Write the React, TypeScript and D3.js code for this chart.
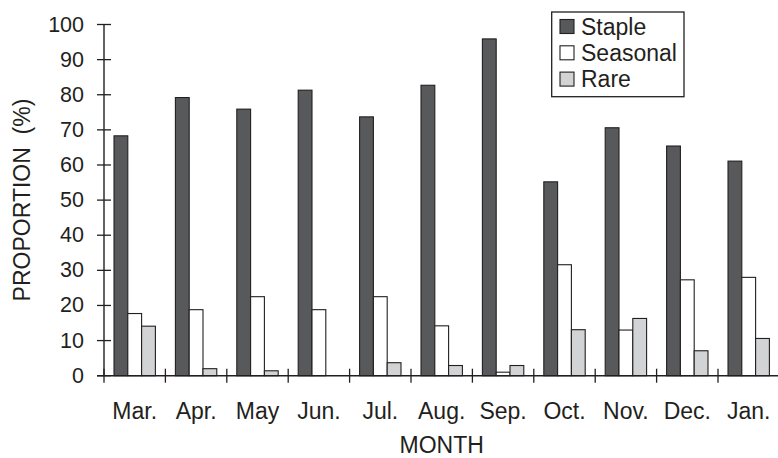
import React, { useRef, useEffect } from 'react';
import * as d3 from 'd3';

const months = ['Mar.', 'Apr.', 'May', 'Jun.', 'Jul.', 'Aug.', 'Sep.', 'Oct.', 'Nov.', 'Dec.', 'Jan.'];
const seriesNames = ['Staple', 'Seasonal', 'Rare'];
const staple = [68.3, 79.2, 75.9, 81.3, 73.7, 82.7, 95.9, 55.2, 70.6, 65.4, 61.1];
const seasonal = [17.7, 18.8, 22.5, 18.8, 22.5, 14.2, 1.0, 31.6, 13.0, 27.3, 28.0];
const rare = [14.1, 2.0, 1.4, 0, 3.7, 2.9, 2.9, 13.1, 16.3, 7.1, 10.6];
const yTicks = [0, 10, 20, 30, 40, 50, 60, 70, 80, 90, 100];

const fills: Record<string, string> = { Staple: '#58595b', Seasonal: '#ffffff', Rare: '#d1d3d4' };
const INK = '#231f20';
const FONT = '"Liberation Sans", Arial, Helvetica, sans-serif';

const W = 778;
const H = 458;

export default function App() {
  const svgRef = useRef<SVGSVGElement>(null);

  useEffect(() => {
    if (!svgRef.current) return;
    const svg = d3.select(svgRef.current);
    svg.selectAll('*').remove();

    const left = 104;
    const x = d3.scaleBand<string>().domain(months).range([left, left + 11 * 61.4]).padding(0);
    const inner = d3.scaleBand<string>().domain(seriesNames).range([0, x.bandwidth()])
      .paddingInner(0).paddingOuter(0.725);
    const y = d3.scaleLinear().domain([0, 100]).range([375.7, 24.5]);

    const data = seriesNames.map((s, si) => ({
      name: s,
      values: [staple, seasonal, rare][si],
    }));

    // bars
    data.forEach((s) => {
      svg.append('g').selectAll('rect')
        .data(s.values)
        .join('rect')
        .attr('x', (_d, i) => (x(months[i]) as number) + (inner(s.name) as number))
        .attr('y', (d) => y(d))
        .attr('width', inner.bandwidth())
        .attr('height', (d) => y(0) - y(d))
        .attr('fill', fills[s.name])
        .attr('stroke', INK)
        .attr('stroke-width', (d) => (d > 0 ? 1.1 : 0));
    });

    // y axis
    svg.append('line')
      .attr('x1', left).attr('x2', left)
      .attr('y1', y(100)).attr('y2', y(0))
      .attr('stroke', INK).attr('stroke-width', 1.4);
    yTicks.forEach((t) => {
      svg.append('line')
        .attr('x1', left - 7).attr('x2', left + 7)
        .attr('y1', y(t)).attr('y2', y(t))
        .attr('stroke', INK).attr('stroke-width', 1.3);
      svg.append('text')
        .attr('x', 84).attr('y', y(t))
        .attr('text-anchor', 'end')
        .attr('dominant-baseline', 'central')
        .attr('font-size', '21.5px')
        .attr('font-family', FONT)
        .attr('fill', INK)
        .text(t);
    });

    // x axis
    svg.append('line')
      .attr('x1', left - 7).attr('x2', W)
      .attr('y1', y(0)).attr('y2', y(0))
      .attr('stroke', INK).attr('stroke-width', 1.4);
    months.forEach((m) => {
      const bx = x(m) as number;
      svg.append('line')
        .attr('x1', bx).attr('x2', bx)
        .attr('y1', y(0) - 7).attr('y2', y(0) + 7)
        .attr('stroke', INK).attr('stroke-width', 1.3);
      svg.append('text')
        .attr('x', bx + x.bandwidth() / 2).attr('y', 419)
        .attr('text-anchor', 'middle')
        .attr('font-size', '23px')
        .attr('font-family', FONT)
        .attr('fill', INK)
        .text(m);
    });

    // axis titles
    svg.append('text')
      .attr('x', 441.7).attr('y', 453)
      .attr('text-anchor', 'middle')
      .attr('font-size', '23px')
      .attr('font-family', FONT)
      .attr('fill', INK)
      .text('MONTH');
    svg.append('text')
      .attr('transform', 'translate(30,200) rotate(-90)')
      .attr('text-anchor', 'middle')
      .attr('font-size', '23px')
      .attr('font-family', FONT)
      .attr('fill', INK)
      .attr('xml:space', 'preserve')
      .style('white-space', 'pre')
      .text('PROPORTION  (%)');

    // legend
    const lg = svg.append('g');
    lg.append('rect')
      .attr('x', 551.7).attr('y', 12)
      .attr('width', 132.3).attr('height', 84.7)
      .attr('fill', '#fff').attr('stroke', INK).attr('stroke-width', 1.3);
    seriesNames.forEach((s, i) => {
      const rowY = 26.5 + i * 26.3;
      lg.append('rect')
        .attr('x', 560).attr('y', rowY - 7)
        .attr('width', 14).attr('height', 14)
        .attr('fill', fills[s]).attr('stroke', INK).attr('stroke-width', 1.1);
      lg.append('text')
        .attr('x', 581).attr('y', rowY + 8)
        .attr('font-size', '23px')
        .attr('font-family', FONT)
        .attr('fill', INK)
        .text(s);
    });
  }, []);

  return (
    <svg
      ref={svgRef}
      width={W}
      height={H}
      style={{ position: 'absolute', left: 0, top: 0, background: '#fff' }}
    />
  );
}
